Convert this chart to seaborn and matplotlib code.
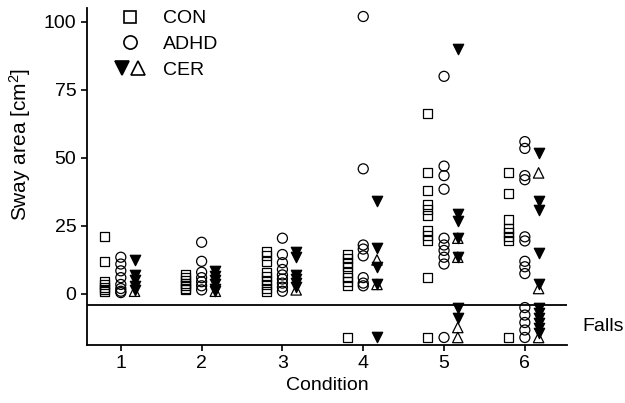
import numpy as np
import pandas as pd
import matplotlib
matplotlib.use("Agg")
import matplotlib.pyplot as plt
import matplotlib.transforms as mtransforms
from matplotlib.lines import Line2D
from matplotlib.legend_handler import HandlerTuple
import seaborn as sns

# ---------------- data ----------------
conditions = [1, 2, 3, 4, 5, 6]

con_values = [
    [21, 12, 4.5, 3.5, 2.5, 1.5, 0.8],
    [7, 6, 5, 4, 3, 2, 1.5],
    [15.5, 14, 12, 8, 6.5, 5, 3.5, 2, 1],
    [14.5, 13, 11.5, 10, 8, 6, 4.5, 3],
    [66.5, 44.5, 38, 33, 31, 29, 23.5, 21.5, 19.5, 6],
    [44.5, 37, 27.5, 24, 22.5, 21, 19.5],
]
adhd_values = [
    [13.5, 11, 8.5, 6, 3.5, 2, 1, 0.5],
    [19, 12, 8, 6, 4.5, 3, 1.5],
    [20.5, 14.5, 11.5, 9, 7, 5.5, 4, 2.5, 1],
    [102, 46, 18, 16.5, 14, 6, 4, 3],
    [80, 47, 43.5, 38.5, 20.5, 18, 16, 13.5, 11],
    [56, 53.5, 43.5, 42, 21, 19.5, 12, 10, 7.5],
]
cer_filled_values = [
    [12.5, 7, 5, 3, 1.5],
    [8.5, 6.5, 5, 3.5, 2, 1],
    [15.5, 13.5, 7, 5.5, 4, 2.5],
    [34, 17, 10, 3.5],
    [90, 29.5, 27, 20.5, 13.5],
    [52, 34, 31, 15, 3.5],
]
cer_open_values = [
    [1],
    [1],
    [1.5],
    [12.5, 3.5],
    [20.5, 13.5],
    [44.5, 2],
]
# number of falls per condition
con_falls = [0, 0, 0, 1, 1, 1]
adhd_falls = [0, 0, 0, 0, 1, 5]
cer_filled_falls = [0, 0, 0, 1, 2, 6]
cer_open_falls = [0, 0, 0, 0, 2, 1]

group_labels = ["CON", "ADHD", "CER"]
y_ticks = [0, 25, 50, 75, 100]

# ---------------- layout constants ----------------
FALL_LINE = -4.0
FALL_LOW, FALL_HIGH = -16.0, -5.0
YMIN, YMAX = -18.75, 105.1
XMIN, XMAX = 0.58, 6.52
offsets = {"CON": -0.2, "ADHD": 0.0, "CER_f": 0.17, "CER_o": 0.17}


def fall_stack(n):
    if n <= 0:
        return []
    if n == 1:
        return [FALL_LOW]
    return list(np.linspace(FALL_LOW, FALL_HIGH, n))


rows = []
for i, c in enumerate(conditions):
    for v in con_values[i]:
        rows.append(("CON", c, v))
    for v in adhd_values[i]:
        rows.append(("ADHD", c, v))
    for v in cer_filled_values[i]:
        rows.append(("CER_f", c, v))
    for v in cer_open_values[i]:
        rows.append(("CER_o", c, v))
    for y in fall_stack(con_falls[i]):
        rows.append(("CON", c, y))
    for y in fall_stack(adhd_falls[i]):
        rows.append(("ADHD", c, y))
    cer_stack = fall_stack(cer_open_falls[i] + cer_filled_falls[i])
    for y in cer_stack[:cer_open_falls[i]]:
        rows.append(("CER_o", c, y))
    for y in cer_stack[cer_open_falls[i]:]:
        rows.append(("CER_f", c, y))

df = pd.DataFrame(rows, columns=["group", "condition", "value"])
df["x"] = df["condition"] + df["group"].map(offsets)

# ---------------- style ----------------
sns.set_theme(style="ticks")
plt.rcParams["font.family"] = ["Liberation Sans", "DejaVu Sans"]
plt.rcParams["mathtext.fontset"] = "custom"
plt.rcParams["mathtext.rm"] = "Liberation Sans"
plt.rcParams["mathtext.it"] = "Liberation Sans:italic"
plt.rcParams["mathtext.bf"] = "Liberation Sans:bold"
plt.rcParams["text.color"] = "black"
plt.rcParams["axes.labelcolor"] = "black"
plt.rcParams["xtick.color"] = "black"
plt.rcParams["ytick.color"] = "black"
plt.rcParams["axes.edgecolor"] = "black"

FS = 14
fig = plt.figure(figsize=(6.25, 4.03), dpi=100)
ax = fig.add_axes([0.139, 0.144, 0.768, 0.836])

styles = {
    "CON": dict(marker="s", s=42, facecolor="none"),
    "ADHD": dict(marker="o", s=52, facecolor="none"),
    "CER_f": dict(marker="v", s=56, facecolor="black"),
    "CER_o": dict(marker="^", s=56, facecolor="none"),
}
for g, st in styles.items():
    sub = df[df["group"] == g]
    sns.scatterplot(data=sub, x="x", y="value", marker=st["marker"], s=st["s"],
                    facecolor=st["facecolor"], edgecolor="black", linewidth=0.9,
                    ax=ax, legend=False, zorder=3)

ax.axhline(FALL_LINE, color="black", lw=1.3, zorder=2)

ax.set_xlim(XMIN, XMAX)
ax.set_ylim(YMIN, YMAX)
ax.set_xticks(conditions)
ax.set_xticklabels([str(c) for c in conditions])
ax.set_yticks(y_ticks)
ax.tick_params(direction="out", length=4.5, width=1.2, labelsize=FS, colors="black", pad=3)
for sp in ["left", "bottom"]:
    ax.spines[sp].set_linewidth(1.3)
    ax.spines[sp].set_color("black")
sns.despine(ax=ax)

ax.set_xlabel("Condition", fontsize=FS, labelpad=3, color="black")
ax.set_ylabel("Sway area [cm$^2$]", fontsize=15, labelpad=6, color="black")
ax.yaxis.set_label_coords(-0.113, 0.595)

trans = mtransforms.blended_transform_factory(ax.transAxes, ax.transData)
ax.text(1.033, -12.0, "Falls", transform=trans, ha="left",
        va="center", fontsize=FS, clip_on=False, color="black")

# legend
h_con = Line2D([], [], marker="s", ls="none", mfc="none", mec="black", ms=9, mew=1.2)
h_adhd = Line2D([], [], marker="o", ls="none", mfc="none", mec="black", ms=9.5, mew=1.2)
h_cf = Line2D([], [], marker="v", ls="none", mfc="black", mec="black", ms=9.5, mew=1.2)
h_co = Line2D([], [], marker="^", ls="none", mfc="none", mec="black", ms=9.5, mew=1.2)
ax.legend([h_con, h_adhd, (h_cf, h_co)], group_labels,
          handler_map={tuple: HandlerTuple(ndivide=None, pad=0.0)},
          loc="upper left", bbox_to_anchor=(0.055, 0.995), frameon=False,
          fontsize=FS, borderpad=0, borderaxespad=0, labelspacing=0.42,
          handlelength=1.7, handletextpad=0.85, labelcolor="black")

fig.savefig("out.png", dpi=100)
